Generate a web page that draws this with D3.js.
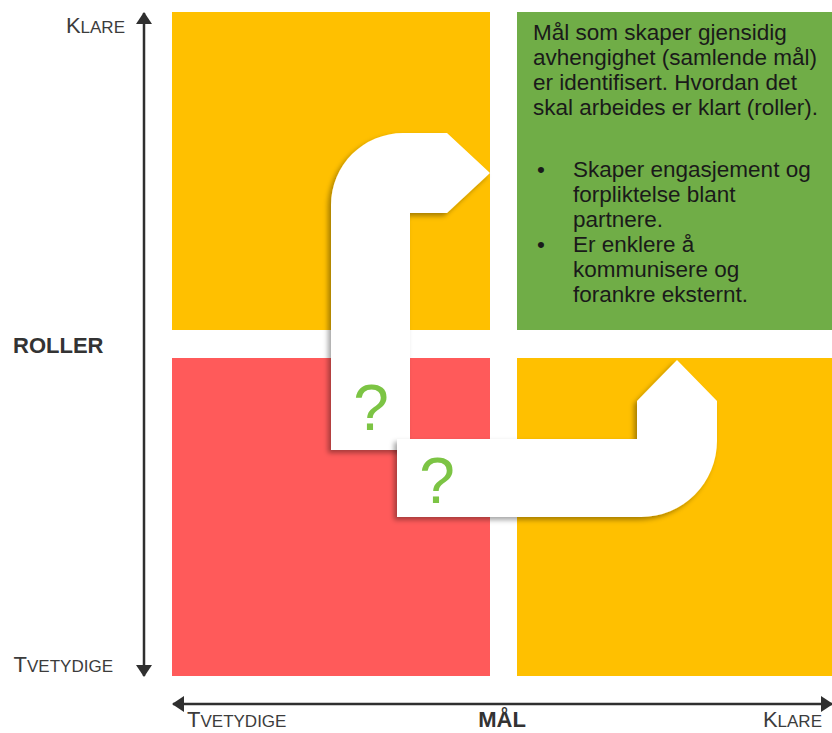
<!DOCTYPE html>
<html lang="no">

<head>
    <meta charset="UTF-8">
    <title>Mål og roller</title>
    <style>
    body {
        margin: 0;
        background: #fff;
    }

    .label {
        font-family: "Liberation Sans", Arial, sans-serif;
        fill: #3c3c3c;
    }

    .axis-title {
        font-family: "Liberation Sans", Arial, sans-serif;
        font-weight: bold;
        font-size: 22px;
        fill: #333;
    }

    .note {
        font-family: "Liberation Sans", Arial, sans-serif;
        font-size: 22.5px;
        fill: #1a1a1a;
    }
    </style>
</head>

<body>
    <svg id="chart" width="832" height="733"></svg>
    <script src="https://d3js.org/d3.v7.min.js"></script>
    <script type="text/javascript">
    // categories on the two axes
    var goalLevels = ["Tvetydige", "Klare"];      // MÅL, left -> right
    var roleLevels = ["Klare", "Tvetydige"];      // ROLLER, top -> bottom

    // fill of each cell, keyed "goal|role"
    var cellColors = {
        "Tvetydige|Klare": "#FFC000",
        "Klare|Klare": "#70AD47",
        "Tvetydige|Tvetydige": "#FF5A5A",
        "Klare|Tvetydige": "#FFC000"
    };

    var noteLines = [
        "Mål som skaper gjensidig",
        "avhengighet (samlende mål)",
        "er identifisert. Hvordan det",
        "skal arbeides er klart (roller)."
    ];
    var noteBullets = [
        ["Skaper engasjement og", "forpliktelse blant", "partnere."],
        ["Er enklere å", "kommunisere og", "forankre eksternt."]
    ];

    // the two bent arrows, in offsets from the top-left of the matrix
    var upperArrow = [[159, 438], [159, 121], [275, 121], [318, 161], [275, 201], [238, 201], [238, 438]];
    var lowerArrow = [[225, 427], [465, 427], [465, 389], [505, 348], [545, 389], [545, 505], [225, 505]];
    var questionMarks = [[199, 418], [265, 491]];

    var svg = d3.select("#chart");

    var x = d3.scaleBand().domain(goalLevels).range([172, 835]).paddingInner(27 / 345),
        y = d3.scaleBand().domain(roleLevels).range([12, 676]).paddingInner(28 / 346);

    var px = d3.scaleLinear().domain([0, 663]).range([172, 835]),
        py = d3.scaleLinear().domain([0, 664]).range([12, 676]);

    var defs = svg.append("defs");
    defs.append("filter")
        .attr("id", "shadow")
        .attr("x", "-20%").attr("y", "-20%")
        .attr("width", "140%").attr("height", "140%")
        .append("feDropShadow")
        .attr("dx", -3).attr("dy", 3)
        .attr("stdDeviation", 2.5)
        .attr("flood-color", "#000")
        .attr("flood-opacity", 0.35);

    defs.append("marker")
        .attr("id", "head")
        .attr("viewBox", "0 0 12 16")
        .attr("refX", 11).attr("refY", 8)
        .attr("markerWidth", 12).attr("markerHeight", 16)
        .attr("markerUnits", "userSpaceOnUse")
        .attr("orient", "auto-start-reverse")
        .append("path")
        .attr("d", "M0,0 L12,8 L0,16 Z")
        .attr("fill", "#2f2f2f");

    // cells
    var cells = [];
    goalLevels.forEach(function(g) {
        roleLevels.forEach(function(r) {
            cells.push({ goal: g, role: r });
        });
    });

    svg.selectAll(".cell")
        .data(cells)
        .enter().append("rect")
        .attr("class", "cell")
        .attr("x", d => x(d.goal))
        .attr("y", d => y(d.role))
        .attr("width", x.bandwidth())
        .attr("height", y.bandwidth())
        .attr("fill", d => cellColors[d.goal + "|" + d.role]);

    // axis arrows
    svg.append("line")
        .attr("x1", 144).attr("x2", 144)
        .attr("y1", y.range()[1]).attr("y2", y.range()[0] + 1)
        .attr("stroke", "#2f2f2f").attr("stroke-width", 2.5)
        .attr("marker-start", "url(#head)")
        .attr("marker-end", "url(#head)");

    svg.append("line")
        .attr("x1", x.range()[0] + 1).attr("x2", 832)
        .attr("y1", 704).attr("y2", 704)
        .attr("stroke", "#2f2f2f").attr("stroke-width", 2.5)
        .attr("marker-start", "url(#head)")
        .attr("marker-end", "url(#head)");

    // bent arrows, corner index 1 of upper and 5 of lower are rounded
    const bentPath = (pts, roundAt, r) => {
        var p = d3.path();
        pts.forEach(function(pt, i) {
            var X = px(pt[0]), Y = py(pt[1]);
            if (i === 0) p.moveTo(X, Y);
            else if (i === roundAt) {
                var nx = pts[i + 1];
                p.arcTo(X, Y, px(nx[0]), py(nx[1]), r);
            } else p.lineTo(X, Y);
        });
        p.closePath();
        return p.toString();
    }

    svg.append("path")
        .attr("d", bentPath(upperArrow, 1, 72))
        .attr("fill", "#fff")
        .attr("filter", "url(#shadow)");

    svg.append("path")
        .attr("d", bentPath(lowerArrow, 5, 76))
        .attr("fill", "#fff")
        .attr("filter", "url(#shadow)");

    svg.selectAll(".qm")
        .data(questionMarks)
        .enter().append("text")
        .attr("class", "qm")
        .attr("x", d => px(d[0]))
        .attr("y", d => py(d[1]))
        .attr("text-anchor", "middle")
        .style("font-family", "'Liberation Sans', Arial, sans-serif")
        .style("font-size", "64px")
        .style("fill", "#7CC444")
        .text("?");

    // note in the green cell
    var note = svg.append("text").attr("class", "note");
    noteLines.forEach(function(t, i) {
        note.append("tspan").attr("x", 533).attr("y", 40 + i * 25).text(t);
    });
    var row = 0;
    noteBullets.forEach(function(b) {
        b.forEach(function(t, j) {
            if (j === 0)
                note.append("tspan").attr("x", 537).attr("y", 177 + row * 25).text("•");
            note.append("tspan").attr("x", 573).attr("y", 177 + row * 25).text(t);
            row++;
        });
    });

    // small caps labels
    const smallCaps = (txt, xPos, yPos, anchor) => {
        var t = svg.append("text")
            .attr("class", "label")
            .attr("x", xPos).attr("y", yPos)
            .attr("text-anchor", anchor);
        t.append("tspan").style("font-size", "22px").text(txt[0].toUpperCase());
        t.append("tspan").style("font-size", "17px").text(txt.slice(1).toUpperCase());
    }

    smallCaps(roleLevels[0], 125, 33, "end");
    smallCaps(roleLevels[1], 113, 672, "end");
    smallCaps(goalLevels[0], 187, 727, "start");
    smallCaps(goalLevels[1], 822, 727, "end");

    svg.append("text").attr("class", "axis-title")
        .attr("x", 13).attr("y", 353).text("ROLLER");
    svg.append("text").attr("class", "axis-title")
        .attr("x", 502).attr("y", 727).attr("text-anchor", "middle").text("MÅL");
    </script>
</body>

</html>
